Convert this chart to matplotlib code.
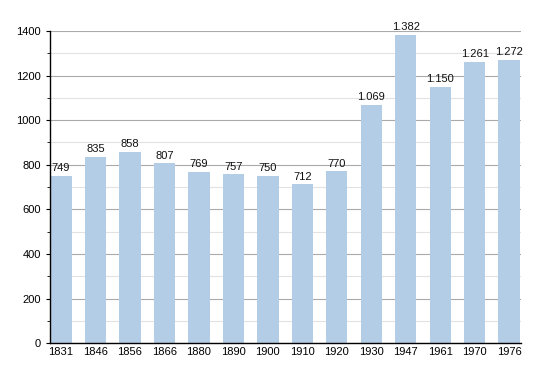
import matplotlib.pyplot as plt
from matplotlib.ticker import MultipleLocator

years = ['1831', '1846', '1856', '1866', '1880', '1890', '1900',
         '1910', '1920', '1930', '1947', '1961', '1970', '1976']
population = [749, 835, 858, 807, 769, 757, 750, 712, 770, 1069, 1382, 1150, 1261, 1272]

plt.rcParams['font.family'] = ['Liberation Sans', 'DejaVu Sans']

fig = plt.figure(figsize=(5.5, 3.73), dpi=100)
ax = fig.add_axes([0.091, 0.080, 0.856, 0.837])

x = range(len(years))
ax.bar(x, population, width=0.62, color='#b3cde6', zorder=2)

for i, v in enumerate(population):
    label = f'{v:,}'.replace(',', '.')
    ax.text(i, v + 12, label, ha='center', va='bottom', fontsize=8, color='#111111')

ax.set_xlim(-0.32, len(years) - 1 + 0.34)
ax.set_ylim(0, 1400)
ax.yaxis.set_major_locator(MultipleLocator(200))
ax.yaxis.set_minor_locator(MultipleLocator(100))
ax.grid(which='major', axis='y', color='#aaaaaa', linewidth=0.8, zorder=0)
ax.grid(which='minor', axis='y', color='#e2e2e2', linewidth=0.8, zorder=0)
ax.set_axisbelow(True)

ax.set_xticks(list(x))
ax.set_xticklabels(years)
ax.tick_params(axis='x', length=0, labelsize=8, pad=3)
ax.tick_params(axis='y', which='major', length=3, labelsize=8)
ax.tick_params(axis='y', which='minor', length=2)

for s in ['top', 'right']:
    ax.spines[s].set_visible(False)
ax.spines['left'].set_linewidth(1.0)
ax.spines['bottom'].set_linewidth(1.0)

fig.savefig('out.png', dpi=100)
